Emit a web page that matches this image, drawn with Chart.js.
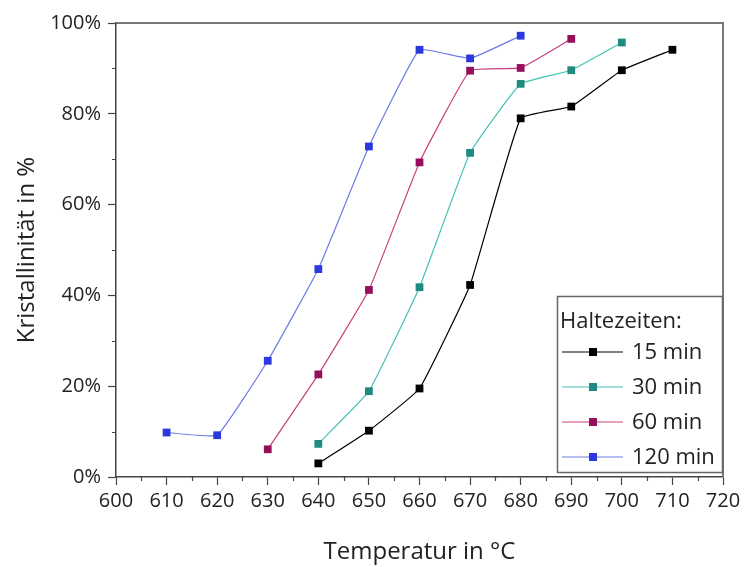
<!DOCTYPE html>
<html>
<head>
<meta charset="utf-8">
<script src="https://cdn.jsdelivr.net/npm/chart.js@4/dist/chart.umd.min.js"></script>
<style>
  html, body { margin: 0; padding: 0; background: #fff; }
  #wrap { width: 745px; height: 567px; }
</style>
</head>
<body>
<div id="wrap"><canvas id="c" width="745" height="567"></canvas></div>
<script>
// Annealing temperatures (°C) and crystallinity (%) for each holding time
const temps15  = [640, 650, 660, 670, 680, 690, 700, 710];
const cryst15  = [3.0, 10.2, 19.5, 42.3, 79.0, 81.6, 89.6, 94.1];

const temps30  = [640, 650, 660, 670, 680, 690, 700];
const cryst30  = [7.3, 18.9, 41.8, 71.4, 86.6, 89.6, 95.7];

const temps60  = [630, 640, 650, 660, 670, 680, 690];
const cryst60  = [6.1, 22.6, 41.2, 69.3, 89.5, 90.1, 96.5];

const temps120 = [610, 620, 630, 640, 650, 660, 670, 680];
const cryst120 = [9.8, 9.2, 25.6, 45.8, 72.8, 94.1, 92.2, 97.2];

const seriesLabels = ['15 min', '30 min', '60 min', '120 min'];
const legendTitle = 'Haltezeiten:';
const xTitle = 'Temperatur in °C';
const yTitle = 'Kristallinität in %';

const FONT = '"Open Sans", "Noto Sans", sans-serif';
const TEXT = '#222';

const pts = (xs, ys) => xs.map((x, i) => ({ x, y: ys[i] }));

const styles = [
  { line: '#000000', mark: '#000000' },
  { line: '#45c2b6', mark: '#1f8a7f' },
  { line: '#c8417f', mark: '#970f5c' },
  { line: '#6c7be6', mark: '#2b38de' }
];

const seriesData = [
  pts(temps15, cryst15),
  pts(temps30, cryst30),
  pts(temps60, cryst60),
  pts(temps120, cryst120)
];

const datasets = seriesData.map((d, i) => ({
  label: seriesLabels[i],
  data: d,
  borderColor: styles[i].line,
  backgroundColor: styles[i].mark,
  pointBackgroundColor: styles[i].mark,
  pointBorderColor: styles[i].mark,
  pointBorderWidth: 0,
  pointStyle: 'rect',
  pointRadius: 5.5,
  borderWidth: 1.2,
  tension: 0.1,
  fill: false
}));

// Minor ticks plus the top/right frame of the plot
const framePlugin = {
  id: 'frame',
  afterDraw(chart) {
    const { ctx, chartArea: a, scales: { x, y } } = chart;
    ctx.save();
    ctx.strokeStyle = '#444';
    ctx.lineWidth = 1.2;
    ctx.beginPath();
    for (let v = 605; v < 720; v += 10) {
      const px = Math.round(x.getPixelForValue(v)) + 0.5;
      ctx.moveTo(px, a.bottom);
      ctx.lineTo(px, a.bottom + 4);
    }
    for (let v = 10; v < 100; v += 20) {
      const py = Math.round(y.getPixelForValue(v)) + 0.5;
      ctx.moveTo(a.left, py);
      ctx.lineTo(a.left - 4, py);
    }
    ctx.stroke();
    ctx.strokeStyle = '#777';
    ctx.lineWidth = 2;
    ctx.beginPath();
    ctx.moveTo(a.left, a.top);
    ctx.lineTo(a.right, a.top);
    ctx.lineTo(a.right, a.bottom);
    ctx.stroke();
    ctx.restore();
  }
};

// Boxed legend inside the lower right corner of the plot
const boxLegendPlugin = {
  id: 'boxLegend',
  afterDraw(chart) {
    const { ctx, chartArea: a } = chart;
    const bx = a.right - 166, by = a.top + 273, bw = 166, bh = a.bottom - 4 - by;
    ctx.save();
    ctx.fillStyle = '#fff';
    ctx.fillRect(bx, by, bw, bh);
    ctx.strokeStyle = '#666';
    ctx.lineWidth = 1.5;
    ctx.strokeRect(bx + 0.5, by + 0.5, bw - 1, bh - 1);
    ctx.font = '22px ' + FONT;
    ctx.fillStyle = TEXT;
    ctx.textBaseline = 'middle';
    ctx.textAlign = 'left';
    ctx.fillText(legendTitle, bx + 3, by + 26);
    chart.data.datasets.forEach((ds, i) => {
      const cy = by + 56 + i * 35;
      ctx.strokeStyle = ds.borderColor;
      ctx.lineWidth = 1.2;
      ctx.beginPath();
      ctx.moveTo(bx + 5, cy);
      ctx.lineTo(bx + 66, cy);
      ctx.stroke();
      ctx.fillStyle = ds.pointBackgroundColor;
      ctx.fillRect(bx + 36 - 4, cy - 4, 8, 8);
      ctx.fillStyle = TEXT;
      ctx.font = '22px ' + FONT;
      ctx.fillText(ds.label, bx + 75, cy + 1);
    });
    ctx.restore();
  }
};

new Chart(document.getElementById('c'), {
  type: 'line',
  data: { datasets },
  plugins: [framePlugin, boxLegendPlugin],
  options: {
    responsive: false,
    animation: false,
    devicePixelRatio: 1,
    layout: { padding: { left: 0, right: 22, top: 23, bottom: 0 } },
    plugins: { legend: { display: false }, tooltip: { enabled: false } },
    scales: {
      x: {
        type: 'linear',
        min: 600,
        max: 720,
        ticks: {
          stepSize: 10,
          color: TEXT,
          padding: 4,
          font: { family: FONT, size: 20 }
        },
        grid: { drawOnChartArea: false, drawTicks: true, tickLength: 8, tickColor: '#444', tickWidth: 1.2 },
        border: { color: '#444', width: 1.5 },
        title: {
          display: true,
          text: xTitle,
          color: TEXT,
          font: { family: FONT, size: 24 },
          padding: { top: 0, bottom: 0 }
        },
        afterFit(scale) { scale.height = 90; }
      },
      y: {
        min: 0,
        max: 100,
        ticks: {
          stepSize: 20,
          color: TEXT,
          padding: 7,
          font: { family: FONT, size: 20 },
          callback: v => v + '%'
        },
        grid: { drawOnChartArea: false, drawTicks: true, tickLength: 8, tickColor: '#444', tickWidth: 1.2 },
        border: { color: '#444', width: 1.5 },
        title: {
          display: true,
          text: yTitle,
          color: TEXT,
          font: { family: FONT, size: 24 },
          padding: { top: 13, bottom: 0 }
        },
        afterFit(scale) { scale.width = 116; }
      }
    }
  }
});
</script>
</body>
</html>
